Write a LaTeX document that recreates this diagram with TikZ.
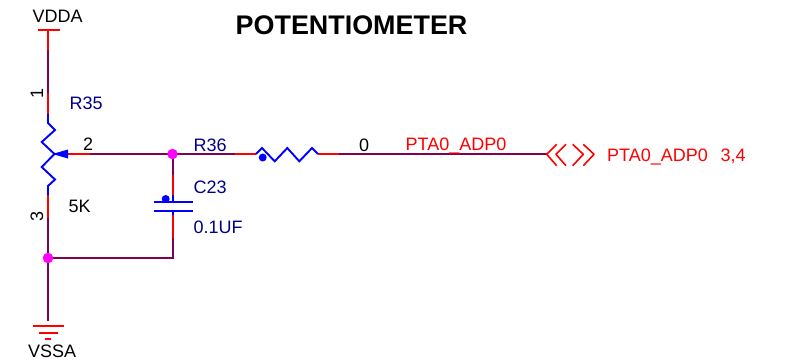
\documentclass[tikz,border=0pt]{standalone}
\usepackage{fontspec}
\setmainfont{Liberation Sans}
\definecolor{wirecol}{RGB}{128,0,85}
\definecolor{pinred}{RGB}{255,0,0}
\definecolor{symblue}{RGB}{0,0,255}
\definecolor{refblue}{RGB}{0,0,132}
\definecolor{dotcol}{RGB}{255,0,255}
\tikzset{
  wirel/.style={draw=wirecol,line width=1.9pt},
  pinl/.style={draw=pinred,line width=1.9pt},
  portl/.style={draw=pinred,line width=1.6pt,line join=bevel},
  syml/.style={draw=symblue,line width=1.9pt},
  lbl/.style={inner sep=0pt,anchor=base west,font=\fontsize{18}{20}\selectfont},
  reflbl/.style={lbl,text=refblue},
  vallbl/.style={lbl,text=black},
  netlbl/.style={lbl,text=pinred},
  rotlbl/.style={inner sep=0pt,rotate=90,font=\fontsize{18}{20}\selectfont},
  junction/.style={circle,fill=dotcol,inner sep=0pt,minimum size=10.5pt},
  pindot/.style={circle,fill=symblue,inner sep=0pt,minimum size=8pt}
}
\begin{document}
\begin{tikzpicture}[x=1pt,y=-1pt]
\useasboundingbox (0,0) rectangle (795,360);
% named points
\coordinate (vtop) at (48,30);
\coordinate (vp1) at (48,50);
\coordinate (vp2) at (48,93);
\coordinate (vp3) at (48,114);
\coordinate (vp4) at (48,123);
\coordinate (vb1) at (48,186);
\coordinate (vb2) at (48,195);
\coordinate (vb3) at (48,218);
\coordinate (cb) at (173,258);
\coordinate (gnd) at (48,321);
% wires
\draw[wirel] (vp1) -- (vp2);
\draw[wirel] (vb3) -- (48,258) -- (gnd);
\draw[wirel] (48,258) -- (cb) -- (173,238);
\draw[wirel] (90,154) -- (235,154);
\draw[wirel] (173,154) -- (173,175);
\draw[wirel] (339,154) -- (547,154);
% pins
\draw[pinl] (vtop) -- (vp1);
\draw[pinl] (vp2) -- (vp3);
\draw[pinl] (vb2) -- (vb3);
\draw[pinl] (68,154) -- (90,154);
\draw[pinl] (235,154) -- (256,154);
\draw[pinl] (318,154) -- (339,154);
\draw[pinl] (173,175) -- (173,195);
\draw[pinl] (173,215) -- (173,238);
% power symbols
\draw[pinl] (38,30) -- (60,30);
\draw[pinl] (33,326) -- (64,326);
\draw[pinl] (39,333) -- (58,333);
\draw[pinl] (45,339) -- (51,339);
% R35 potentiometer
\draw[syml,line join=miter] (vp3) -- (vp4) -- (55,130) -- (41.7,142) -- (54.5,154) -- (41.7,167) -- (55,179.5) -- (vb1) -- (vb2);
\fill[symblue] (52.5,154) -- (68,149.5) -- (68,158.5) -- cycle;
% R36
\draw[syml] (256,154) -- (262,148) -- (274.7,161.3) -- (287.3,148) -- (299.3,161.3) -- (312,148) -- (318,154);
\node[pindot] (r36dot) at (262.7,157.5) {};
% C23
\draw[syml] (173,195) -- (173,202);
\draw[syml] (153.5,202) -- (193,202);
\draw[syml] (153.5,210.7) -- (193,210.7);
\draw[syml] (173,210.7) -- (173,215);
\node[pindot] (c23dot) at (165.7,199) {};
% junctions
\node[junction] (jb) at (48,258) {};
\node[junction] (jt) at (172.5,154) {};
% hierarchical port
\draw[portl] (556.7,144.3) -- (546.7,154.3) -- (556.7,165.7);
\draw[portl] (566,144.3) -- (556,154.3) -- (566,165.7);
\draw[portl] (572.7,144.3) -- (583.3,154.3) -- (572.7,165.7);
\draw[portl] (583.3,144.3) -- (594,154.3) -- (583.3,165.7);
% texts
\node[lbl,font=\fontsize{26.9}{30}\selectfont\bfseries] (title) at (235.5,34) {POTENTIOMETER};
\node[vallbl] (vdda) at (32.5,22) {VDDA};
\node[vallbl] (vssa) at (28,357.2) {VSSA};
\node[rotlbl] (pin1) at (37,93) {1};
\node[rotlbl] (pin3) at (37,216) {3};
\node[vallbl] (pin2) at (83,150) {2};
\node[reflbl] (r35) at (69.5,109) {R35};
\node[vallbl] (val5k) at (68.5,212) {5K};
\node[reflbl] (r36) at (193.5,151) {R36};
\node[vallbl] (val0) at (359,151) {0};
\node[netlbl] (net) at (405.5,150) {PTA0\_ADP0};
\node[netlbl] (port) at (607,161) {PTA0\_ADP0};
\node[netlbl] (pg) at (720.5,161) {3,4};
\node[reflbl] (c23) at (193.5,193) {C23};
\node[reflbl] (val01) at (193.5,233) {0.1UF};
\end{tikzpicture}
\end{document}
